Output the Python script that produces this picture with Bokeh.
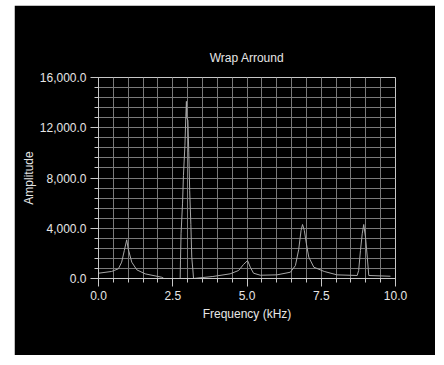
from bokeh.plotting import figure
from bokeh.models import Range1d, FixedTicker, NumeralTickFormatter
from bokeh.embed import file_html
from bokeh.resources import INLINE

freq = [0.0, 0.44, 0.67, 0.78, 0.87, 0.95, 1.0, 1.12, 1.29, 1.57, 2.13, 2.2,
        2.75, 2.76, 2.78, 2.83, 2.86, 2.91, 2.94, 2.96, 2.97, 3.01, 3.04, 3.07,
        3.11, 3.14, 3.18, 3.2, 3.85, 4.43, 4.72, 4.88, 5.02, 5.11, 5.22, 5.45,
        6.01, 6.46, 6.63, 6.74, 6.82, 6.87, 6.93, 7.0, 7.08, 7.25, 7.6, 8.03,
        8.71, 8.76, 8.82, 8.88, 8.93, 8.99, 9.05, 9.1, 9.83]
amp = [420, 560, 770, 1300, 2230, 3080, 2360, 1300, 690, 370, 100, 0,
       0, 1400, 3600, 6000, 8200, 10600, 12900, 14100, 12800, 12600, 10000, 7000,
       4300, 1700, 600, 0, 160, 370, 640, 1110, 1430, 900, 420, 260,
       290, 500, 1030, 2300, 3820, 4300, 3820, 2760, 1700, 900, 560, 290,
       240, 640, 2230, 3560, 4300, 3290, 1700, 240, 180]

x_ticks = [0, 2.5, 5, 7.5, 10]
x_minor = [i * 0.5 for i in range(21)]
y_ticks = [0, 4000, 8000, 12000, 16000]
y_minor = [i * 800 for i in range(21)]

GRID = "#7a7a7a"
AXIS = "#c8c8c8"
TEXT = "#e6e6e6"
FONT = "Liberation Sans"

p = figure(width=421, height=350, output_backend="svg", toolbar_location=None,
           x_range=Range1d(0, 10), y_range=Range1d(0, 16000),
           title="Wrap Arround",
           min_border_left=84, min_border_right=40, min_border_top=72, min_border_bottom=77)
p.margin = (5, 0, 0, 14)

p.background_fill_color = "black"
p.border_fill_color = "black"
p.outline_line_color = AXIS
p.outline_line_width = 1

p.title.align = "center"
p.title.text_color = TEXT
p.title.text_font = FONT
p.title.text_font_size = "12px"
p.title.text_font_style = "normal"
p.title.standoff = 26

p.xaxis.ticker = FixedTicker(ticks=x_ticks, minor_ticks=x_minor)
p.yaxis.ticker = FixedTicker(ticks=y_ticks, minor_ticks=y_minor)
p.xaxis.formatter = NumeralTickFormatter(format="0.0")
p.yaxis.formatter = NumeralTickFormatter(format="0,0.0")

for ax in (p.xaxis[0], p.yaxis[0]):
    ax.axis_line_color = AXIS
    ax.major_tick_line_color = AXIS
    ax.minor_tick_line_color = AXIS
    ax.major_tick_in = 0
    ax.major_tick_out = 8
    ax.minor_tick_in = 0
    ax.minor_tick_out = 4
    ax.major_label_text_color = TEXT
    ax.major_label_text_font = FONT
    ax.major_label_text_font_size = "12px"
    ax.axis_label_text_color = TEXT
    ax.axis_label_text_font = FONT
    ax.axis_label_text_font_size = "12px"
    ax.axis_label_text_font_style = "normal"
    ax.major_label_standoff = 4

p.xaxis.axis_label = "Frequency (kHz)"
p.yaxis.axis_label = "Amplitude"
p.xaxis.axis_label_standoff = 4
p.yaxis.axis_label_standoff = 1

for g in (p.xgrid[0], p.ygrid[0]):
    g.grid_line_color = GRID
    g.grid_line_width = 1
    g.minor_grid_line_color = GRID
    g.minor_grid_line_width = 1

p.line(freq, amp, line_color="#a8a8a8", line_width=1)

open("out.html", "w").write(file_html(p, INLINE))
